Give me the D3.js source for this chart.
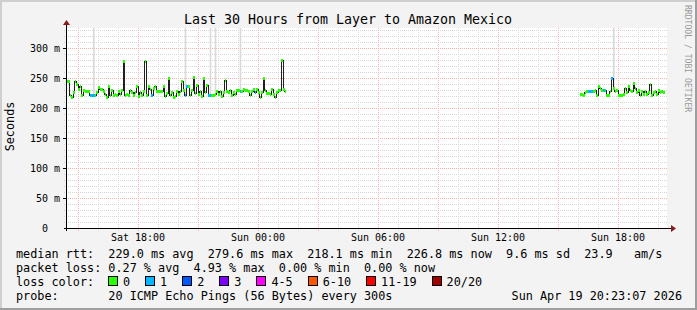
<!DOCTYPE html>
<html>
<head>
<meta charset="utf-8">
<script src="https://cdn.jsdelivr.net/npm/d3@7"></script>
<style>
body { margin: 0; background: #f3f3f3; }
text { font-family: "DejaVu Sans Mono", monospace; white-space: pre; }
</style>
</head>
<body>
<svg id="chart" width="697" height="310"></svg>
<script>
// graph window (30 hours)
var winStart = new Date(2026, 3, 18, 14, 27);
var winEnd = new Date(2026, 3, 19, 20, 27);

// first run of samples, 5 minute steps, median rtt in ms
var seg1Start = new Date(2026, 3, 18, 14, 25);
var seg1Median = [245,
  245, 222, 218.1, 226, 245, 240, 232, 236, 221, 230,
  228, 229, 229, 222, 222, 222, 222, 226, 235, 231,
  232, 229, 224, 219, 237, 222, 230, 221, 223, 222,
  228, 224, 230, 278, 221, 224, 222, 230, 226, 222,
  226, 236, 220, 226, 222, 228, 279, 222, 236, 231,
  221, 234, 237, 228, 228, 228, 228, 236, 220, 225,
  250, 222, 226, 219, 220, 229, 224, 228, 245, 230,
  221, 237, 236, 222, 230, 252, 225, 238, 224, 229,
  220, 250, 226, 238, 222, 222, 222, 222, 224, 228,
  224, 229, 220, 226, 247, 228, 226, 230, 222, 226,
  224, 230, 230, 228, 228, 232, 230, 230, 228, 222,
  228, 232, 226, 232, 226, 219, 226, 250, 230, 225,
  225, 224, 232, 224, 219, 226, 230, 230, 279.6, 232,
  229];
// sample indexes with 1 of 20 pings lost
var seg1Loss1 = [14, 15, 16, 51, 71, 72, 85, 86, 104, 113];
// sample indexes where the smoke reaches past the top
var seg1Smoke = [16, 71, 86, 89, 104];

var seg2Start = new Date(2026, 3, 19, 16, 5);
var seg2Median = [
  223, 223, 222, 226, 228, 228, 228, 228, 228, 230,
  222, 237, 234, 230, 230, 230, 222, 222, 228, 250,
  234, 228, 230, 222, 222, 222, 224, 234, 226, 237,
  230, 228, 242, 234, 226, 230, 222, 228, 224, 228,
  224, 226, 240, 222, 226, 228, 224, 230, 226, 228,
  226.8];
var seg2Loss1 = [5, 6, 7, 14, 19];
var seg2Smoke = [20];

var lossLabels = ["0", "1", "2", "3", "4-5", "6-10", "11-19", "20/20"];
var lossColors = ["#26ff00", "#00b8ff", "#0059ff", "#7e00ff", "#ff00ff", "#ff5500", "#ff0000", "#a10000"];

var yTicks = [0, 50, 100, 150, 200, 250, 300];

var legendLines = [
  "median rtt:  229.0 ms avg  279.6 ms max  218.1 ms min  226.8 ms now  9.6 ms sd  23.9   am/s",
  "packet loss: 0.27 % avg  4.93 % max  0.00 % min  0.00 % now",
  "loss color:",
  "probe:       20 ICMP Echo Pings (56 Bytes) every 300s"
];
var stamp = "Sun Apr 19 20:23:07 2026";
var title = "Last 30 Hours from Layer to Amazon Mexico";

var svg = d3.select("#chart");
var W = 697, H = 310;
var pL = 67, pR = 667, pT = 28, pB = 228;

var x = d3.scaleTime().domain([winStart, winEnd]).range([pL, pR]);
var y = d3.scaleLinear().domain([0, 333.33]).range([pB, pT]);

// background + 3d frame
svg.append("rect").attr("width", W).attr("height", H).attr("fill", "#f3f3f3");
svg.append("rect").attr("x", 0).attr("y", 0).attr("width", W).attr("height", 2).attr("fill", "#cfcfcf");
svg.append("rect").attr("x", 0).attr("y", 0).attr("width", 2).attr("height", H).attr("fill", "#cfcfcf");
svg.append("rect").attr("x", 0).attr("y", H - 2).attr("width", W).attr("height", 2).attr("fill", "#9e9e9e");
svg.append("rect").attr("x", W - 2).attr("y", 0).attr("width", 2).attr("height", H).attr("fill", "#9e9e9e");

svg.append("rect").attr("x", pL).attr("y", pT).attr("width", pR - pL).attr("height", pB - pT).attr("fill", "#fff");

var grid = svg.append("g").attr("shape-rendering", "crispEdges").attr("stroke-dasharray", "1,1");
var minorCol = "#d6d6d6", majorCol = "#f6b0b0";

// minor grid
var hours = d3.timeHour.every(1).range(winStart, winEnd);
grid.selectAll(".vmin").data(hours.filter(function(d) { return d.getHours() % 3 != 0; }))
  .enter().append("line")
  .attr("x1", function(d) { return Math.round(x(d)) + 0.5; })
  .attr("x2", function(d) { return Math.round(x(d)) + 0.5; })
  .attr("y1", pT).attr("y2", pB + 3)
  .attr("stroke", minorCol);
var ms10 = d3.range(10, 334, 10).filter(function(v) { return v % 50 != 0; });
grid.selectAll(".hmin").data(ms10).enter().append("line")
  .attr("x1", pL - 3).attr("x2", pR)
  .attr("y1", function(d) { return Math.round(y(d)) + 0.5; })
  .attr("y2", function(d) { return Math.round(y(d)) + 0.5; })
  .attr("stroke", minorCol);

// major grid
grid.selectAll(".vmaj").data(hours.filter(function(d) { return d.getHours() % 3 == 0; }))
  .enter().append("line")
  .attr("x1", function(d) { return Math.round(x(d)) + 0.5; })
  .attr("x2", function(d) { return Math.round(x(d)) + 0.5; })
  .attr("y1", pT).attr("y2", pB + 3)
  .attr("stroke", majorCol);
grid.selectAll(".hmaj").data(yTicks.filter(function(v) { return v > 0; })).enter().append("line")
  .attr("x1", pL - 3).attr("x2", pR)
  .attr("y1", function(d) { return Math.round(y(d)) + 0.5; })
  .attr("y2", function(d) { return Math.round(y(d)) + 0.5; })
  .attr("stroke", majorCol);

// data
svg.append("clipPath").attr("id", "plot").append("rect")
  .attr("x", pL).attr("y", pT).attr("width", pR - pL).attr("height", pB - pT);
var plot = svg.append("g").attr("clip-path", "url(#plot)");

function lossIndex(n) {
  if (n <= 3) return n;
  if (n <= 5) return 4;
  if (n <= 10) return 5;
  if (n <= 19) return 6;
  return 7;
}

function drawSeg(start, med, loss1, smoke) {
  var pts = med.map(function(v, i) {
    return { t: d3.timeMinute.offset(start, 5 * i), v: v, loss: loss1.indexOf(i) >= 0 ? 1 : 0 };
  });
  var ends = pts.concat([{ t: d3.timeMinute.offset(start, 5 * med.length), v: med[med.length - 1] }]);
  var step = function(d) { return x(d3.timeMinute.offset(d.t, 5)) - x(d.t); };

  // smoke
  plot.selectAll(null).data(smoke.map(function(i) { return pts[i]; })).enter().append("rect")
    .attr("x", function(d) { return x(d.t); })
    .attr("width", step)
    .attr("y", pT)
    .attr("height", function(d) { return y(d.v) - pT; })
    .attr("fill", "#dadada");

  plot.append("path").datum(ends)
    .attr("d", d3.line().x(function(d) { return x(d.t); }).y(function(d) { return Math.round(y(d.v)) + 0.5; }).curve(d3.curveStepAfter))
    .attr("fill", "none").attr("stroke", "#202020").attr("stroke-width", 1)
    .attr("shape-rendering", "crispEdges");

  plot.selectAll(null).data(pts).enter().append("rect")
    .attr("x", function(d) { return x(d.t); })
    .attr("width", step)
    .attr("y", function(d) { return Math.round(y(d.v)) - 1; })
    .attr("height", 3)
    .attr("fill", function(d) { return lossColors[lossIndex(d.loss)]; })
    .attr("shape-rendering", "crispEdges");
}
drawSeg(seg1Start, seg1Median, seg1Loss1, seg1Smoke);
drawSeg(seg2Start, seg2Median, seg2Loss1, seg2Smoke);

// axes
var axisCol = "#000";
svg.append("line").attr("x1", pL - 3).attr("x2", pR + 5).attr("y1", pB + 0.5).attr("y2", pB + 0.5)
  .attr("stroke", axisCol).attr("shape-rendering", "crispEdges");
svg.append("line").attr("x1", pL - 0.5).attr("x2", pL - 0.5).attr("y1", pB + 3).attr("y2", pT - 4)
  .attr("stroke", axisCol).attr("shape-rendering", "crispEdges");
svg.append("path").attr("d", "M" + (pR + 4) + "," + (pB - 3) + "L" + (pR + 9) + "," + (pB + 0.5) + "L" + (pR + 4) + "," + (pB + 4) + "Z")
  .attr("fill", "#8b1a1a");
svg.append("path").attr("d", "M" + (pL - 4) + "," + (pT - 3) + "L" + (pL - 0.5) + "," + (pT - 8) + "L" + (pL + 3) + "," + (pT - 3) + "Z")
  .attr("fill", "#8b1a1a");

svg.selectAll(".yt").data(yTicks.filter(function(v) { return v > 0; })).enter().append("line")
  .attr("x1", pL - 4).attr("x2", pL - 1)
  .attr("y1", function(d) { return Math.round(y(d)) + 0.5; })
  .attr("y2", function(d) { return Math.round(y(d)) + 0.5; })
  .attr("stroke", "#000").attr("shape-rendering", "crispEdges");

svg.selectAll(".yl").data(yTicks).enter().append("text")
  .attr("x", 60)
  .attr("y", function(d) { return y(d) + 3.6; })
  .attr("text-anchor", "end")
  .attr("xml:space", "preserve")
  .attr("font-size", "10px")
  .text(function(d) { return d == 0 ? "0  " : d + " m"; });

var fmt = d3.timeFormat("%a %H:%M");
svg.selectAll(".xl").data(d3.timeHour.every(6).range(winStart, winEnd)).enter().append("text")
  .attr("x", function(d) { return x(d); })
  .attr("y", 241)
  .attr("text-anchor", "middle")
  .attr("font-size", "10px")
  .text(fmt);

// titles
svg.append("text").attr("x", 348).attr("y", 24).attr("text-anchor", "middle")
  .attr("font-size", "13.3px").text(title);
svg.append("text").attr("transform", "translate(14,126.5) rotate(-90)").attr("text-anchor", "middle")
  .attr("font-size", "11.8px").text("Seconds");
svg.append("text").attr("transform", "translate(685,5) rotate(90)")
  .attr("font-size", "8.1px").attr("fill", "#9a9a9a").text("RRDTOOL / TOBI OETIKER");

// legend
var cw = 7.1;
svg.selectAll(".lg").data(legendLines).enter().append("text")
  .attr("x", 16)
  .attr("y", function(d, i) { return 258 + i * 14; })
  .attr("xml:space", "preserve")
  .attr("font-size", "11.8px")
  .text(function(d) { return d; });
svg.append("text").attr("x", 682).attr("y", 300).attr("text-anchor", "end")
  .attr("font-size", "11.8px").text(stamp);

var bx = 108;
lossLabels.forEach(function(lab, i) {
  svg.append("rect").attr("x", bx + 0.5).attr("y", 276.5).attr("width", 9).attr("height", 9)
    .attr("fill", lossColors[i]).attr("stroke", "#000").attr("shape-rendering", "crispEdges");
  svg.append("text").attr("x", bx + 15).attr("y", 286).attr("font-size", "11.8px").text(lab);
  bx = bx + 15 + lab.length * cw + 15;
});
</script>
</body>
</html>
